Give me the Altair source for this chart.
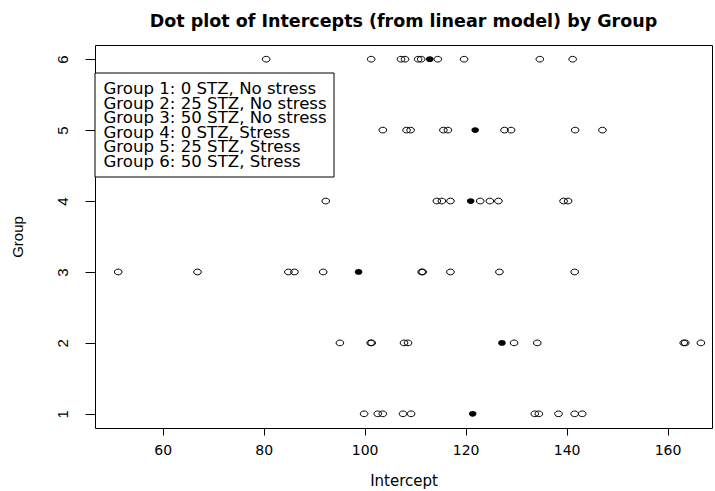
import altair as alt
import pandas as pd

# ---- data ----
groups = [1, 2, 3, 4, 5, 6]
group1 = [99.9, 102.6, 103.6, 107.6, 109.2, 133.7, 134.5, 138.4, 141.6, 143.1]
group2 = [95.1, 101.2, 101.4, 107.8, 108.6, 129.6, 134.2, 163.2, 163.5, 166.6]
group3 = [51.2, 66.9, 84.9, 86.1, 91.8, 111.3, 111.5, 117.0, 126.7, 141.6]
group4 = [92.3, 114.3, 115.3, 117.0, 122.9, 124.8, 126.5, 139.4, 140.3]
group5 = [103.6, 108.3, 109.1, 115.6, 116.5, 127.7, 129.0, 141.7, 147.1]
group6 = [80.5, 101.3, 107.2, 108.0, 110.6, 111.2, 114.5, 119.7, 134.7, 141.2]
group_means = [121.4, 127.2, 98.8, 121.0, 121.9, 112.9]
legend_lines = [
    "Group 1: 0 STZ, No stress",
    "Group 2: 25 STZ, No stress",
    "Group 3: 50 STZ, No stress",
    "Group 4: 0 STZ, Stress",
    "Group 5: 25 STZ, Stress",
    "Group 6: 50 STZ, Stress",
]
x_ticks = [60, 80, 100, 120, 140, 160]
y_ticks = [1, 2, 3, 4, 5, 6]

rows = []
for g, vals in zip(groups, [group1, group2, group3, group4, group5, group6]):
    for v in vals:
        rows.append({"Group": g, "Intercept": v})
df = pd.DataFrame(rows)
mean_df = pd.DataFrame({"Group": groups, "Intercept": group_means})
one = pd.DataFrame({"k": [0]})

# slightly wide ellipse (reference image is horizontally stretched)
ELLIPSE = ("M 1 0 C 1 0.414 0.552 0.75 0 0.75 C -0.552 0.75 -1 0.414 -1 0 "
           "C -1 -0.414 -0.552 -0.75 0 -0.75 C 0.552 -0.75 1 -0.414 1 0 Z")

W, H = 617, 383
xs = alt.Scale(domain=[46.6, 168.8], nice=False, zero=False)
ys = alt.Scale(domain=[0.8, 6.2], nice=False, zero=False)

x_axis = alt.Axis(
    values=x_ticks, format="d", title="Intercept", grid=False, domain=False,
    tickSize=7, tickColor="black", tickWidth=1,
    labelFont="DejaVu Sans", labelFontSize=14, labelColor="black",
    labelBaseline="alphabetic", labelPadding=19.6, labelFlush=False,
    titleFont="DejaVu Sans", titleFontSize=15, titleFontWeight="normal",
    titleColor="black", titleX=W / 2, titleY=57.8,
    titleBaseline="alphabetic", titleAlign="center",
)
y_axis = alt.Axis(
    values=y_ticks, format="d", title="Group", grid=False, domain=False,
    tickSize=10, tickColor="black", tickWidth=1,
    labelAngle=270, labelAlign="center", labelBaseline="alphabetic",
    labelPadding=18, labelFont="Liberation Sans", labelFontSize=15,
    labelColor="black", labelFlush=False,
    titleAngle=270, titleX=-72.2, titleY=H / 2, titleAlign="center",
    titleBaseline="alphabetic", titleFont="Liberation Sans",
    titleFontSize=15, titleFontWeight="normal", titleColor="black",
)

pts = alt.Chart(df).mark_point(
    shape=ELLIPSE, size=58, filled=False, color="black",
    strokeWidth=1, opacity=1,
).encode(
    x=alt.X("Intercept:Q", scale=xs, axis=x_axis),
    y=alt.Y("Group:Q", scale=ys, axis=y_axis),
)

means = alt.Chart(mean_df).mark_point(
    shape=ELLIPSE, size=58, filled=True, color="black", opacity=1,
).encode(
    x=alt.X("Intercept:Q", scale=xs),
    y=alt.Y("Group:Q", scale=ys),
)

legend_box = alt.Chart(one).mark_rect(
    fill="white", stroke="black", strokeWidth=1,
).encode(
    x=alt.value(0), x2=alt.value(239), y=alt.value(28), y2=alt.value(132),
)

legend_text = alt.Chart(one).mark_text(
    align="left", baseline="alphabetic", font="DejaVu Sans",
    fontSize=16.6, lineHeight=14.5, color="black",
).encode(
    x=alt.value(8.5), y=alt.value(49), text=alt.value(legend_lines),
)

chart = alt.layer(pts, means, legend_box, legend_text).properties(
    width=W, height=H,
    title=alt.Title(
        "Dot plot of Intercepts (from linear model) by Group",
        font="DejaVu Sans", fontSize=17.5, fontWeight="bold",
        anchor="middle", frame="group", baseline="alphabetic",
        offset=1, color="black",
    ),
    padding={"left": 95, "top": 45, "right": 3, "bottom": 63},
    autosize=alt.AutoSizeParams(type="none"),
    background="white",
).configure_view(stroke="black", strokeWidth=1)

chart.save("out.html", embed_options={"renderer": "svg", "actions": False})
